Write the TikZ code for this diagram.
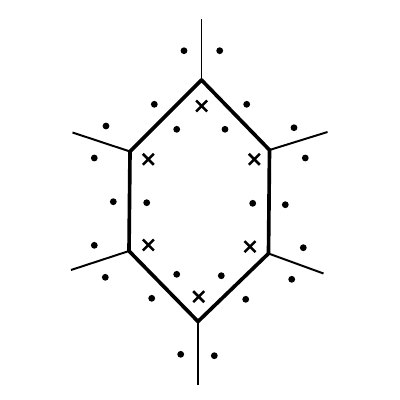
\documentclass[tikz,border=0pt]{standalone}

\tikzset{
  wall/.style={line width=2.6pt,line join=round},
  spoke/.style={line width=1.4pt},
  dotmark/.style={fill=black},
  crossmark/.style={line width=1.8pt}
}

\begin{document}
\begin{tikzpicture}[x=0.025cm,y=-0.025cm]
\useasboundingbox (0,0) rectangle (400,400);

\coordinate (top) at (201.5,80);
\coordinate (ul) at (130,151.5);
\coordinate (ll) at (129,251);
\coordinate (bot) at (198,321.5);
\coordinate (lr) at (268.5,253.5);
\coordinate (ur) at (269.5,150);

\coordinate (topend) at (201.5,19);
\coordinate (ulend) at (72.5,132.5);
\coordinate (llend) at (71,270);
\coordinate (botend) at (198,385);
\coordinate (lrend) at (323.5,273.5);
\coordinate (urend) at (327.5,132);

\draw [wall] (top) -- (ur) -- (lr) -- (bot) -- (ll) -- (ul) -- cycle;

\draw [spoke] (top) -- (topend);
\draw [spoke] (ul) -- (ulend);
\draw [spoke] (ll) -- (llend);
\draw [spoke] (bot) -- (botend);
\draw [spoke] (lr) -- (lrend);
\draw [spoke] (ur) -- (urend);

\foreach \x/\y in {184/50.7, 219.7/50.7, 154.3/104.3, 246.7/104.3,
  106/126, 294/127.7, 94.3/158, 305.3/158, 176.7/129.3, 225/129.3,
  113.3/201.7, 146.7/202.7, 252.7/203.3, 285.3/204.7,
  94.3/245.3, 303.3/247.7, 105.3/277.3, 291.7/279.3,
  176.7/274.3, 221.3/275.7, 151.7/298.3, 245.7/299.3,
  180.7/354.3, 214.3/355.7}
  \fill [dotmark] (\x,\y) circle (3.4);

\foreach \x/\y in {201.7/106, 148.3/159.3, 254.3/159.3,
  148.3/245, 250/246.7, 198.7/296.7}
  \draw [crossmark] (\x-5.5,\y-5.5) -- ++(11,11) (\x-5.5,\y+5.5) -- ++(11,-11);
\end{tikzpicture}
\end{document}
